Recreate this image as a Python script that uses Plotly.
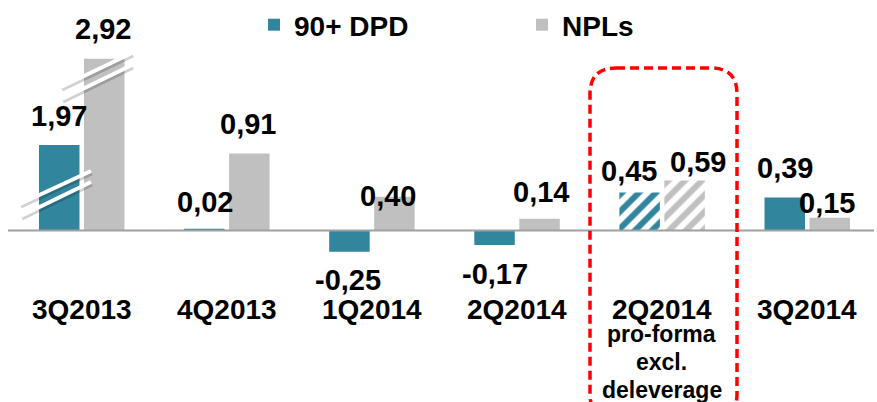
import plotly.graph_objects as go

# ---------------- data ----------------
categories = ["3Q2013", "4Q2013", "1Q2014", "2Q2014", "2Q2014", "3Q2014"]
sub_labels = [[], [], [], [], ["pro-forma", "excl.", "deleverage"], []]
dpd_values = [1.97, 0.02, -0.25, -0.17, 0.45, 0.39]
npl_values = [2.92, 0.91, 0.40, 0.14, 0.59, 0.15]
dpd_labels = ["1,97", "0,02", "-0,25", "-0,17", "0,45", "0,39"]
npl_labels = ["2,92", "0,91", "0,40", "0,14", "0,59", "0,15"]
hatched = [False, False, False, False, True, False]
# axis break on the first category (amount removed from the drawn bar)
break_cut_dpd = [0.96, 0, 0, 0, 0, 0]
break_cut_npl = [0.89, 0, 0, 0, 0, 0]

# ---------------- style ----------------
TEAL = "#31859C"
GREY = "#C0C0C0"
FONT = "Liberation Sans, Arial, sans-serif"
W, H = 877, 402
# label nudges (px): (dx, dy) relative to bar end
dpd_label_shift = [(0, 29), (1, 27), (-1, -28), (0, -29), (-11, 21), (0, 30)]
npl_label_shift = [(-1, 30), (-1, 30), (-6, 1), (1, 27), (13, 19), (-3, 15)]

BAR_W = 0.279
DPD_OFF = -0.2929
NPL_OFF = 0.0172

def fx(px):
    return px / W

def fy(py):
    return 1 - py / H

x_idx = list(range(len(categories)))
dpd_draw = [v - c for v, c in zip(dpd_values, break_cut_dpd)]
npl_draw = [v - c for v, c in zip(npl_values, break_cut_npl)]

fig = go.Figure()
fig.add_trace(go.Bar(
    name="<b>90+ DPD</b>", x=x_idx, y=dpd_draw, width=BAR_W, offset=DPD_OFF,
    marker=dict(color=TEAL, line=dict(width=0),
                pattern=dict(shape=["/" if h else "" for h in hatched],
                             fillmode="replace", bgcolor="white", fgcolor=TEAL,
                             size=12, solidity=0.5)),
    hoverinfo="skip",
))
fig.add_trace(go.Bar(
    name="<b>NPLs</b>", x=x_idx, y=npl_draw, width=BAR_W, offset=NPL_OFF,
    marker=dict(color=GREY, line=dict(width=0),
                pattern=dict(shape=["/" if h else "" for h in hatched],
                             fillmode="replace", bgcolor="white", fgcolor=GREY,
                             size=12, solidity=0.5)),
    hoverinfo="skip",
))

ann = []
for i in x_idx:
    for vals, labels, off, shifts in ((dpd_draw, dpd_labels, DPD_OFF, dpd_label_shift),
                                      (npl_draw, npl_labels, NPL_OFF, npl_label_shift)):
        dx, dy = shifts[i]
        ann.append(dict(x=i + off + BAR_W / 2, y=vals[i], xref="x", yref="y",
                        text="<b>%s</b>" % labels[i], showarrow=False,
                        xanchor="center", yanchor="middle", xshift=dx, yshift=dy,
                        font=dict(family=FONT, size=29, color="black")))
    ann.append(dict(x=i, y=fy(309), xref="x", yref="paper",
                    text="<b>%s</b>" % categories[i], showarrow=False,
                    xanchor="center", yanchor="middle",
                    font=dict(family=FONT, size=28, color="black")))
    for k, line in enumerate(sub_labels[i]):
        ann.append(dict(x=i, y=fy(334 + 28 * k), xref="x", yref="paper",
                        text="<b>%s</b>" % line, showarrow=False,
                        xanchor="center", yanchor="middle",
                        font=dict(family=FONT, size=23, color="black")))

shapes = []
# zero / category axis line
shapes.append(dict(type="line", xref="paper", yref="y", x0=fx(8), x1=fx(874), y0=0, y1=0,
                   line=dict(color="#A0A0A0", width=2), layer="above"))

# axis-break marks
def brk(x0, y0, x1, y1):
    out = []
    out.append(dict(type="line", xref="paper", yref="paper",
                    x0=fx(x0 + 1), y0=fy(y0 + 2.5), x1=fx(x1 + 1), y1=fy(y1 + 2.5),
                    line=dict(color="rgba(0,0,0,0.18)", width=4), layer="above"))
    out.append(dict(type="line", xref="paper", yref="paper",
                    x0=fx(x0), y0=fy(y0), x1=fx(x1), y1=fy(y1),
                    line=dict(color="white", width=4), layer="above"))
    return out

shapes += brk(20, 204, 91, 171)
shapes += brk(21, 216, 91, 182)
shapes += brk(61, 87, 132, 53)
shapes += brk(62, 99, 132, 65)

# red dashed rounded box
L, R, T, B, r = 590, 737, 68, 420, 26
path = ("M {a},{b} L {c},{b} Q {R},{b} {R},{d} L {R},{e} Q {R},{B} {c},{B} "
        "L {a},{B} Q {L},{B} {L},{e} L {L},{d} Q {L},{b} {a},{b} Z")
pts = dict(a=fx(L + r), c=fx(R - r), b=fy(T), d=fy(T + r), e=fy(B - r),
           R=fx(R), L=fx(L), B=fy(B))
shapes.append(dict(type="path", xref="paper", yref="paper",
                   path=path.format(**{k: round(v, 5) for k, v in pts.items()}),
                   line=dict(color="#FF0000", width=3.5, dash="9px,5px"),
                   layer="above"))

fig.update_layout(
    width=W, height=H,
    margin=dict(l=0, r=0, t=0, b=0, autoexpand=False),
    paper_bgcolor="white", plot_bgcolor="white",
    xaxis=dict(visible=False, range=[-81.5 / 145.1, (W - 81.5) / 145.1], fixedrange=True),
    yaxis=dict(visible=False, range=[-(H - 230.5) / 84.6, 230.5 / 84.6], fixedrange=True),
    barmode="overlay",
    showlegend=True,
    legend=dict(orientation="h", x=fx(254), y=fy(0), xanchor="left", yanchor="top",
                font=dict(family=FONT, size=28, color="black"),
                entrywidth=223, bgcolor="rgba(0,0,0,0)"),
    annotations=ann,
    shapes=shapes,
)

fig.write_html("out.html", config={"displayModeBar": False},
               post_script="document.body.style.margin='0px';")
